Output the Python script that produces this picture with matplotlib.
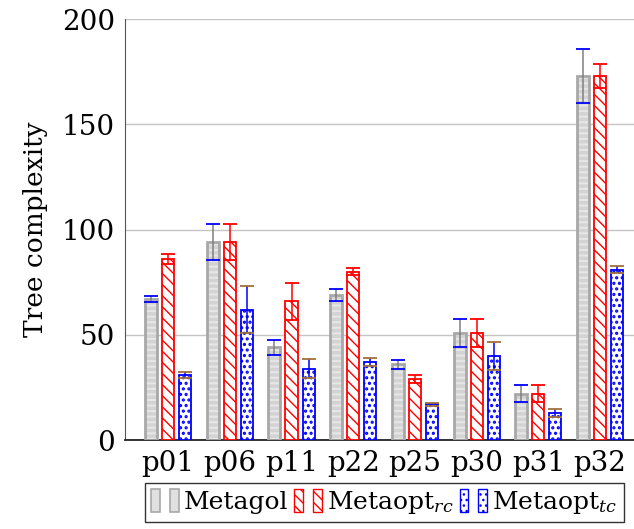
import numpy as np
import matplotlib
matplotlib.use("Agg")
import matplotlib.pyplot as plt
from matplotlib.legend_handler import HandlerTuple
from matplotlib.patches import Patch

plt.rcParams['font.family'] = ['DejaVu Serif']
plt.rcParams['mathtext.fontset'] = 'dejavuserif'

problems = ['p01', 'p06', 'p11', 'p22', 'p25', 'p30', 'p31', 'p32']
metagol = [67, 94, 44, 69, 36, 51, 22, 173]
metagol_err = [1.3, 8.5, 3.5, 2.8, 2.0, 6.7, 4.0, 12.8]
rc_vals = [86, 94, 66, 80, 29, 51, 22, 173]
rc_err = [2.5, 8.5, 8.8, 1.8, 1.9, 6.7, 4.0, 5.7]
tc_vals = [31, 62, 34, 37, 17, 40, 13, 81]
tc_err = [1.3, 11.0, 4.6, 2.0, 0.6, 6.6, 2.0, 1.7]

fig = plt.figure(figsize=(6.34, 5.29), dpi=100)
ax = fig.add_axes([0.197, 0.168, 0.803, 0.796])

x = np.arange(len(problems))
w = 0.195
off = 0.276

# Metagol: striped light gray fill, then outline
with plt.rc_context({'hatch.linewidth': 2.5}):
    ax.bar(x - off, metagol, w, color='#e6e6e6', edgecolor='#d3d3d3',
           hatch='---', linewidth=0, zorder=2)
ax.bar(x - off, metagol, w, fill=False, edgecolor='#a8a8a8', linewidth=2,
       zorder=3)
ax.bar(x, rc_vals, w, facecolor='white', edgecolor='#ff0000', hatch='\\\\\\',
       linewidth=1.3, zorder=3)
with plt.rc_context({'hatch.linewidth': 1.5}):
    ax.bar(x + off, tc_vals, w, facecolor='white', edgecolor='#0000ff',
           hatch='...', linewidth=1.3, zorder=3)

for xs, v, e, lc, cc in [(x - off, metagol, metagol_err, '#808080', '#0000ff'),
                         (x, rc_vals, rc_err, '#ff0000', '#ff0000'),
                         (x + off, tc_vals, tc_err, '#0000ff', '#a0703c')]:
    eb = ax.errorbar(xs, v, yerr=e, fmt='none', ecolor=lc, elinewidth=1.1,
                     capsize=5, capthick=1.3, zorder=4)
    for cap in eb[1]:
        cap.set_markeredgecolor(cc)
        cap.set_markerfacecolor(cc)

ax.set_xlim(-0.70, 7.55)
ax.set_ylim(0, 200)
ax.set_yticks([0, 50, 100, 150, 200])
ax.set_xticks(x)
ax.set_xticklabels(problems)
ax.tick_params(length=0, labelsize=20, pad=7)
ax.grid(axis='y', color='#c4c4c4', linewidth=1)
ax.set_axisbelow(True)
for s in ['top', 'right']:
    ax.spines[s].set_visible(False)
ax.spines['left'].set_color('#555555')
ax.spines['bottom'].set_color('#222222')
ax.spines['bottom'].set_linewidth(1.3)
ax.set_ylabel('Tree complexity', fontsize=19, labelpad=10)

h1 = Patch(facecolor='#e0e0e0', edgecolor='#a8a8a8', linewidth=1.2)
h2 = Patch(facecolor='white', edgecolor='#ff0000', hatch='\\\\\\', linewidth=1)
h3 = Patch(facecolor='white', edgecolor='#0000ff', hatch='...', linewidth=1)
leg = fig.legend([(h1, h1), (h2, h2), (h3, h3)],
                 ['Metagol', 'Metaopt$_{rc}$', 'Metaopt$_{tc}$'],
                 handler_map={tuple: HandlerTuple(ndivide=None, pad=0.4)},
                 loc='upper center', bbox_to_anchor=(0.606, 0.087), ncol=3,
                 fontsize=18, frameon=True, fancybox=False, edgecolor='black',
                 handlelength=1.1, handleheight=1.0, handletextpad=0.2,
                 columnspacing=0.25, borderpad=0.25, borderaxespad=0)
leg.get_frame().set_linewidth(1)

fig.savefig('out.png', dpi=100)
